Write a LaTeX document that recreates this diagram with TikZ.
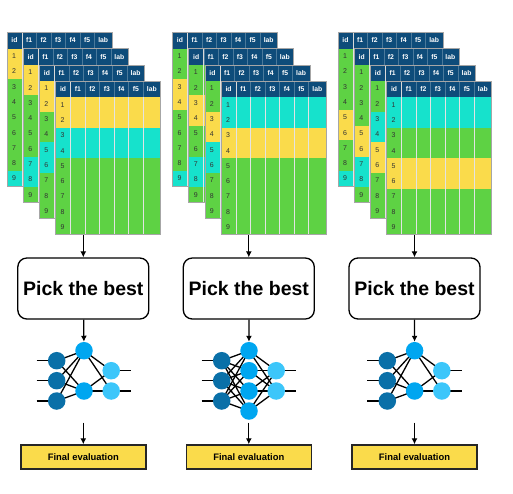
\documentclass[tikz,border=0pt]{standalone}
\usepackage{fontspec}
\setmainfont{Liberation Sans}
\usepackage{tikz}
\usepackage{xcolor}
\usetikzlibrary{
    arrows.meta,
    backgrounds,
    calc,
    positioning
}
\definecolor{hdr}{RGB}{14,76,122}
\definecolor{ye}{RGB}{250,219,75}
\definecolor{gr}{RGB}{94,210,68}
\definecolor{cy}{RGB}{22,226,204}
\definecolor{inp}{RGB}{10,112,168}
\definecolor{hid}{RGB}{0,166,240}
\definecolor{outp}{RGB}{60,198,250}

\begin{document}
\begin{tikzpicture}[x=1pt, y=-1pt,
    >={Latex[length=6pt,width=6pt]},
    cell/.style={font=\fontsize{7}{8}\selectfont, text=black!80, inner sep=0pt},
    head/.style={font=\fontsize{6.8}{8}\selectfont\bfseries, text=white, inner sep=0pt},
    pick/.style={draw, line width=1.3pt, rounded corners=9pt, minimum width=131pt, minimum height=61pt, font=\fontsize{19.5}{22}\selectfont\bfseries},
    final/.style={draw=black!85, fill=ye, line width=1.4pt, minimum width=125pt, minimum height=24pt, font=\fontsize{9.4}{11}\selectfont\bfseries},
    neuron/.style={circle, minimum size=17.5pt, inner sep=0pt},
    wire/.style={line width=1.3pt}
]
    \useasboundingbox (0, 0) rectangle (513, 493);
    % one stack of data tables per column
    \foreach \x/\s/\rowsets in {
        7/a/{{ye,ye,gr,gr,gr,gr,gr,gr,cy},{ye,ye,gr,gr,gr,gr,cy,cy,gr},{ye,ye,gr,gr,cy,cy,gr,gr,gr},{ye,ye,cy,cy,gr,gr,gr,gr,gr}},
        172.5/b/{{gr,gr,ye,ye,gr,gr,gr,gr,cy},{gr,gr,ye,ye,gr,gr,cy,cy,gr},{gr,gr,ye,ye,cy,cy,gr,gr,gr},{cy,cy,ye,ye,gr,gr,gr,gr,gr}},
        338/c/{{gr,gr,gr,gr,ye,ye,gr,gr,cy},{gr,gr,gr,gr,ye,ye,cy,cy,gr},{gr,gr,cy,cy,ye,ye,gr,gr,gr},{cy,cy,gr,gr,ye,ye,gr,gr,gr}}} {
        \begin{scope}[shift={(\x, 32.5)}]
            \foreach \rows [count=\t from 0] in \rowsets {
                \begin{scope}[shift={(16.2*\t, 16.2*\t)}]
                    \foreach \c [count=\r] in \rows {
                        \fill[\c] (0, 16+15.3*\r-15.3) rectangle (105, 16+15.3*\r);
                        \node[cell] (\s\t-r\r) at (7, 8.35+15.3*\r) {\r};
                    }
                    \fill[hdr] (0, 0) rectangle (105, 16);
                    \foreach \lx in {15, 29.5, 44, 58.5, 73, 87.5} {
                        \draw[white!78!gray, line width=0.6pt] (\lx, 16) -- (\lx, 153.7);
                        \draw[hdr!75!white, line width=0.4pt] (\lx, 0) -- (\lx, 16);
                    }
                    \draw[white!70!gray, line width=0.7pt] (15, 0) -- (15, 16);
                    \foreach \h/\hx in {id/7.5, f1/22.2, f2/36.7, f3/51.2, f4/65.7, f5/80.2, lab/96.2}
                        \node[head] (\s\t-\h) at (\hx, 8) {\h};
                    \draw[gray!70, line width=0.7pt] (0, 0) rectangle (105, 153.7);
                \end{scope}
            }
        \end{scope}
    }

    % selection boxes
    \node[pick] (pick1) at (83.3, 288.5) {Pick the best};
    \node[pick] (pick2) at (248.8, 288.5) {Pick the best};
    \node[pick] (pick3) at (414.5, 288.5) {Pick the best};
    \coordinate (tab1) at (83.3, 235);
    \coordinate (tab2) at (248.8, 235);
    \coordinate (tab3) at (414.5, 235);

    % networks
    \foreach \s/\nx/\hy in {a/56.7/{350.7, 391}, b/221.7/{350.7, 370.7, 391, 411}, c/387.3/{350.7, 391}} {
        \begin{scope}[shift={(\nx, 0)}]
            \foreach \y [count=\i] in {360.7, 380.7, 401} {
                \node[neuron, fill=inp] (\s-in\i) at (0, \y) {};
                \coordinate (\s-i\i) at (-20, \y);
            }
            \foreach \y [count=\i] in \hy
                \node[neuron, fill=hid] (\s-hid\i) at (27.3, \y) {};
            \foreach \y [count=\i] in {370.7, 391} {
                \node[neuron, fill=outp] (\s-out\i) at (54.5, \y) {};
                \coordinate (\s-o\i) at (74.5, \y);
            }
            \begin{scope}[on background layer]
                \foreach \i in {1, 2, 3} {
                    \draw[wire] (\s-i\i) -- (\s-in\i.center);
                    \foreach \y [count=\j] in \hy
                        \draw[wire] (\s-in\i.center) -- (\s-hid\j.center);
                }
                \foreach \y [count=\j] in \hy
                    \foreach \k in {1, 2}
                        \draw[wire] (\s-hid\j.center) -- (\s-out\k.center);
                \foreach \k in {1, 2}
                    \draw[wire] (\s-out\k.center) -- (\s-o\k);
            \end{scope}
        \end{scope}
    }

    % final boxes
    \node[final] (eval1) at (83.3, 457) {Final evaluation};
    \node[final] (eval2) at (248.8, 457) {Final evaluation};
    \node[final] (eval3) at (414.5, 457) {Final evaluation};
    \coordinate (a-end) at (83.3, 422.5);
    \coordinate (b-end) at (248.8, 422.5);
    \coordinate (c-end) at (414.5, 422.5);

    \draw[wire]
    (tab1) edge[->] (pick1)
    (tab2) edge[->] (pick2)
    (tab3) edge[->] (pick3)
    (pick1) edge[->] (a-hid1)
    (pick2) edge[->] (b-hid1)
    (pick3) edge[->] (c-hid1)
    (a-end) edge[->] (eval1)
    (b-end) edge[->] (eval2)
    (c-end) edge[->] (eval3);
\end{tikzpicture}
\end{document}
